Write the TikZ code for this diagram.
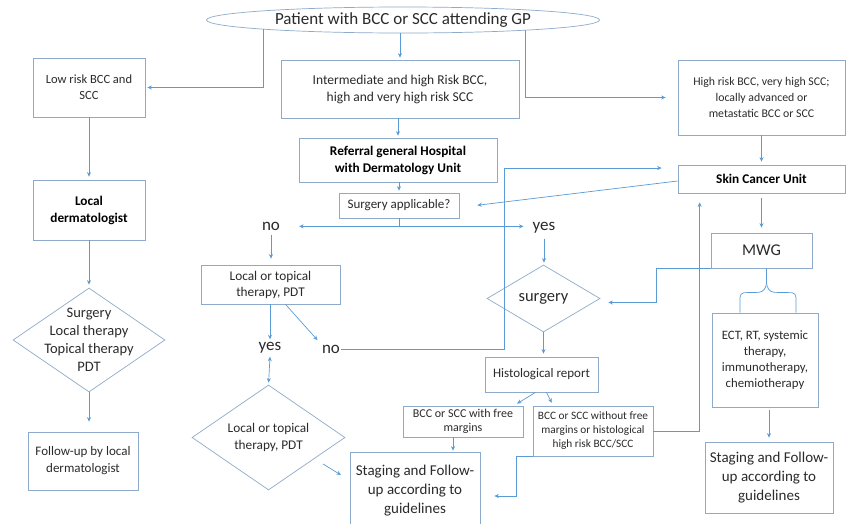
\documentclass[tikz,border=0pt]{standalone}
\usepackage{fontspec}
\setmainfont{Carlito}
\usetikzlibrary{shapes.geometric,arrows.meta,calc}
\definecolor{lnblue}{HTML}{5B9BD5}
\definecolor{bxblue}{HTML}{8EAACB}
\definecolor{txgrey}{HTML}{2B2B2B}
\newcommand{\fsz}[2]{\fontsize{#1}{#2}\selectfont}
\tikzset{
  box/.style={draw=bxblue, line width=0.7pt, fill=white, align=center, text=txgrey, inner sep=2pt},
  conn/.style={draw=lnblue, line width=0.7pt},
  arr/.style={conn, -{Stealth[length=4.5pt,width=4pt]}, shorten >=2pt},
  lab/.style={text=txgrey, font=\fsz{17}{20}, inner sep=1pt},
  intext/.style={align=center, text=txgrey, inner sep=0pt},
}
\begin{document}
\begin{tikzpicture}[x=1pt,y=-1pt]
\useasboundingbox[fill=white] (0,0) rectangle (847,523);

% nodes
\node[box, ellipse, inner sep=0pt, minimum width=393pt, minimum height=26pt,
  label={[intext, font=\fsz{17}{20}]center:Patient with BCC or SCC attending GP}] (pat) at (403,20) {};
\node[box, minimum width=112pt, minimum height=59pt, font=\fsz{12.5}{16}] (low) at (89,87.5) {Low risk BCC and\\SCC};
\node[box, minimum width=238pt, minimum height=58pt, font=\fsz{13.5}{17}] (inter) at (400,89) {Intermediate and high Risk BCC,\\high and very high risk SCC};
\node[box, minimum width=167pt, minimum height=75pt, font=\fsz{11.8}{16}] (high) at (761.5,97.5) {High risk BCC, very high SCC;\\locally advanced or\\metastatic BCC or SCC};
\node[box, minimum width=198pt, minimum height=44pt, font=\bfseries\fsz{13.3}{17}, text=black] (ref) at (398,160) {Referral general Hospital\\with Dermatology Unit};
\node[box, minimum width=120pt, minimum height=25pt, font=\fsz{13}{16}] (surgapp) at (399,205.5) {Surgery applicable?};
\node[box, minimum width=167pt, minimum height=28pt, font=\bfseries\fsz{13.3}{16}, text=black] (skin) at (761.5,179) {Skin Cancer Unit};
\node[box, minimum width=112pt, minimum height=60pt, font=\bfseries\fsz{13.3}{17}, text=black] (locder) at (89,210) {Local\\dermatologist};
\node[box, minimum width=101pt, minimum height=35pt, font=\fsz{16.4}{19}] (mwg) at (761.5,250.5) {MWG};
\node[box, minimum width=139pt, minimum height=39pt, font=\fsz{13.3}{16}] (lot) at (270.5,284.5) {Local or topical\\therapy, PDT};
\node[box, diamond, inner sep=0pt, minimum width=113pt, minimum height=67pt,
  label={[intext, font=\fsz{16.5}{19}]center:surgery}] (surgd) at (543.5,298.5) {};
\node[box, diamond, inner sep=0pt, minimum width=152pt, minimum height=104pt,
  label={[intext, font=\fsz{14.5}{18}]center:{Surgery\\Local therapy\\Topical therapy\\PDT}}] (diam1) at (89,340) {};
\node[box, minimum width=113pt, minimum height=35pt, font=\fsz{13}{16}] (hist) at (541.5,374.5) {Histological report};
\node[box, minimum width=120pt, minimum height=31pt, font=\fsz{12}{14}] (free) at (463,421.5) {BCC or SCC with free\\margins};
\node[box, minimum width=120pt, minimum height=50pt, font=\fsz{11.3}{14}] (nofree) at (593,431) {BCC or SCC without free\\margins or histological\\high risk BCC/SCC};
\node[box, minimum width=106pt, minimum height=94pt, font=\fsz{12.8}{16}] (ect) at (765,360) {ECT, RT, systemic\\therapy,\\immunotherapy,\\chemiotherapy};
\node[box, minimum width=130pt, minimum height=78pt, font=\fsz{15}{19}] (stag1) at (415,491) {Staging and Follow-\\up according to\\guidelines};
\node[box, minimum width=128pt, minimum height=71pt, font=\fsz{15}{19}] (stag2) at (769,477.5) {Staging and Follow-\\up according to\\guidelines};
\node[box, minimum width=110pt, minimum height=58pt, font=\fsz{13}{17}] (follow) at (83,461) {Follow-up by local\\dermatologist};
\node[box, diamond, inner sep=0pt, minimum width=153pt, minimum height=105pt,
  label={[intext, font=\fsz{13.3}{17}]center:{Local or topical\\therapy, PDT}}] (diam2) at (268.5,437.5) {};

\node[lab] (no1) at (271,226) {no};
\node[lab] (yes1) at (544,228) {yes};
\node[lab] (yes2) at (270,348) {yes};
\node[lab] (no2) at (331,349) {no};

% connectors
\draw[arr] (pat.south west) |- (low.east);
\draw[arr, shorten >=12pt] ($(pat.center)+(122,10)$) |- (high.west);
\draw[arr] (pat.south -| inter.north) -- (inter.north);
\draw[arr] (inter.south -| ref.north) -- (ref.north);
\draw[arr] (ref.south -| surgapp.north) -- (surgapp.north);
\coordinate (split) at ($(surgapp.south)+(0,8)$);
\draw[conn] (surgapp.south) -- (split);
\draw[arr] (split) -- ($(no1.east |- split)+(16,0)$);
\draw[arr] (split) -- ($(yes1.west |- split)+(-6,0)$);
\draw[arr, shorten >=6pt] ($(no1.south)+(0,4)$) -- (no1.south |- lot.north);
\draw[arr] (lot.south -| yes2) -- (yes2.north);
\draw[conn, {Stealth[length=4.5pt,width=4pt]}-{Stealth[length=4.5pt,width=4pt]}, shorten >=2pt] ($(yes2.south)+(0,2)$) -- (diam2.north);
\draw[arr] ($(lot.south)+(15,0)$) -- ($(no2.north west)+(-2,-2)$);
\draw[arr] (no2.east) -| ($(skin.west)+(-173,-11)$) -- ($(skin.west)+(-14,-11)$);
\draw[arr] ($(skin.west)+(0,2)$) -- ($(surgapp.east)+(16,0)$);
\draw[arr, shorten >=3pt] (high.south) -- (skin.north);
\draw[arr, shorten >=5pt, shorten <=5pt] (skin.south) -- (mwg.north);
\draw[arr] (mwg.south west) -- ++(-54,0) |- ($(surgd.east)+(6,4)$);
\draw[arr, shorten >=2pt] ($(yes1.south)+(0,4)$) -- (yes1.south |- surgd.north);
\draw[arr, shorten >=3pt] (surgd.south) -- (surgd.south |- hist.north);
\draw[arr] ($(hist.south)+(-6,0)$) -- ($(free.north east)+(-8,-1)$);
\draw[arr] ($(hist.south)+(5,0)$) -- ($(nofree.north west)+(20,-1)$);
\draw[arr, shorten >=1pt] ([xshift=-10pt]free.south) -- ([xshift=-10pt]free.south |- stag1.north);
\draw[arr] (nofree.south west) -- ++(-16,0) |- ($(stag1.east)+(12,5)$);
\draw[arr] (nofree.east) -| ($(skin.south west)+(22,7)$);
\coordinate (brace) at ($(mwg.south)+(5,14)$);
\draw[conn] ($(mwg.south)+(5,0)$) -- (brace)
  to[out=-90,in=0] ($(brace)+(-8,10)$) -- ($(ect.north)+(-21,-20)$)
  to[out=180,in=90] ($(ect.north)+(-25,-15)$) -- ($(ect.north)+(-25,0)$);
\draw[conn] (brace)
  to[out=-90,in=180] ($(brace)+(8,10)$) -- ($(ect.north)+(27,-20)$)
  to[out=0,in=90] ($(ect.north)+(31,-15)$) -- ($(ect.north)+(31,0)$);
\draw[arr, shorten >=4pt, shorten <=3pt] (ect.south -| stag2.north) -- (stag2.north);
\draw[arr, shorten >=3pt] (low.south) -- (locder.north);
\draw[arr, shorten >=3pt] (locder.south) -- (diam1.north);
\draw[arr, shorten >=10pt] (diam1.south) -- (diam1.south |- follow.north);
\draw[arr] ($(diam2.south east)+(16,0)$) -- ($(stag1.west)+(-7,-15)$);
\end{tikzpicture}
\end{document}
